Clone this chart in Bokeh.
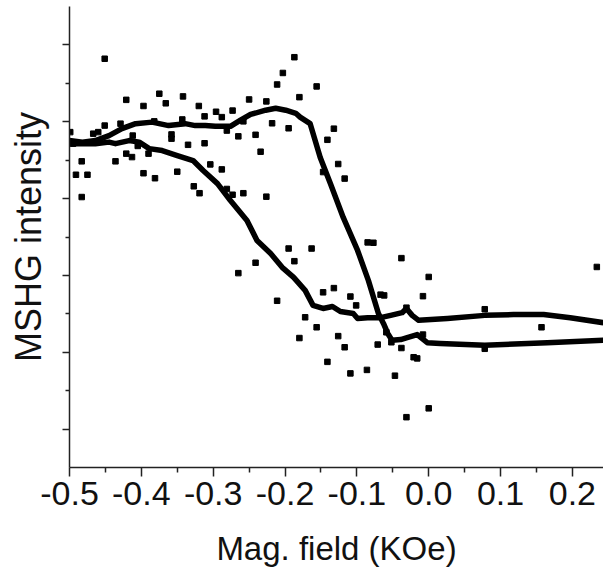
from bokeh.plotting import figure
from bokeh.models import FixedTicker, PrintfTickFormatter, CustomJSTickFormatter, Range1d
from bokeh.embed import file_html
from bokeh.resources import INLINE

# scatter data: magnetic field (KOe) and MSHG intensity (arb. units)
scatter_x = [-0.451, -0.187, -0.203, -0.211, -0.156, -0.180, -0.421, -0.375, -0.366, -0.342,
             -0.397, -0.320, -0.250, -0.226, -0.296, -0.273, -0.312, -0.288, -0.451, -0.429,
             -0.467, -0.460, -0.382, -0.343, -0.258, -0.218, -0.132, -0.195, -0.281, -0.358,
             -0.358, -0.265, -0.241, -0.141, -0.412, -0.499, -0.495, -0.335, -0.312, -0.405,
             -0.234, -0.421, -0.413, -0.390, -0.483, -0.436, -0.304, -0.126, -0.288, -0.350,
             -0.397, -0.381, -0.491, -0.475, -0.147, -0.327, -0.319, -0.281, -0.273, -0.258,
             -0.226, -0.483, -0.117, -0.085, -0.077, -0.265, -0.241, -0.195, -0.163, -0.187,
             -0.211, -0.147, -0.132, -0.172, -0.156, -0.180, -0.126, -0.141, -0.038, 0.000,
             0.234, -0.109, -0.101, -0.067, -0.062, -0.008, -0.031, 0.078, 0.157, -0.117,
             -0.071, -0.059, -0.052, -0.038, -0.021, -0.016, -0.008, 0.078, -0.109, -0.086,
             -0.047, 0.000, -0.031]
scatter_y = [10.64, 10.68, 10.27, 9.97, 9.92, 9.64, 9.57, 9.73, 9.48, 9.66,
             9.41, 9.41, 9.58, 9.53, 9.26, 9.29, 9.14, 9.12, 8.90, 8.95,
             8.69, 8.73, 9.01, 9.06, 9.01, 8.96, 8.82, 8.83, 8.77, 8.67,
             8.56, 8.62, 8.66, 8.53, 8.64, 8.73, 8.43, 8.40, 8.44, 8.37,
             8.22, 8.17, 8.08, 8.17, 7.97, 7.97, 7.89, 7.90, 7.76, 7.70,
             7.66, 7.53, 7.62, 7.62, 7.69, 7.32, 7.14, 7.25, 7.10, 7.14,
             7.05, 7.04, 7.52, 5.86, 5.85, 5.06, 5.33, 5.70, 5.70, 5.37,
             4.34, 4.56, 4.67, 3.91, 3.65, 3.37, 3.42, 2.75, 5.45, 4.96,
             5.22, 4.45, 4.22, 4.50, 4.48, 4.46, 4.16, 4.12, 3.65, 3.13,
             3.20, 3.52, 3.26, 3.11, 2.87, 2.84, 3.46, 3.09, 2.45, 2.54,
             2.39, 1.54, 1.31]

# branch 1: flat top, steep drop, lower right
branch1_x = [-0.500, -0.482, -0.464, -0.445, -0.427, -0.408, -0.385, -0.362, -0.339, -0.325,
             -0.311, -0.297, -0.276, -0.262, -0.248, -0.227, -0.213, -0.199, -0.185, -0.179,
             -0.165, -0.151, -0.137, -0.119, -0.099, -0.084, -0.070, -0.063, -0.057, -0.051,
             -0.039, -0.030, -0.016, -0.002, 0.016, 0.078, 0.165, 0.243]
branch1_y = [8.51, 8.47, 8.51, 8.64, 8.82, 8.95, 8.99, 8.90, 8.95, 8.90,
             8.90, 8.88, 8.88, 9.04, 9.19, 9.30, 9.35, 9.30, 9.22, 9.12,
             8.95, 8.07, 7.40, 6.51, 5.65, 4.87, 4.01, 3.75, 3.49, 3.31,
             3.33, 3.38, 3.46, 3.25, 3.23, 3.18, 3.25, 3.31]

# branch 2: gradual decrease, upper right
branch2_x = [-0.500, -0.464, -0.445, -0.436, -0.417, -0.403, -0.389, -0.371, -0.350, -0.328,
             -0.314, -0.294, -0.276, -0.253, -0.239, -0.220, -0.204, -0.188, -0.172, -0.161,
             -0.147, -0.134, -0.123, -0.105, -0.099, -0.085, -0.067, -0.053, -0.037, -0.031,
             -0.023, -0.014, 0.026, 0.078, 0.118, 0.160, 0.197, 0.243]
branch2_y = [8.43, 8.43, 8.47, 8.43, 8.51, 8.47, 8.30, 8.25, 8.12, 7.99,
             7.73, 7.39, 6.95, 6.43, 5.91, 5.57, 5.21, 4.95, 4.61, 4.22,
             4.14, 4.19, 4.06, 4.01, 3.88, 3.90, 3.90, 3.96, 4.03, 4.14,
             3.96, 3.83, 3.88, 3.96, 3.98, 3.98, 3.90, 3.77]

x_ticks = [-0.5, -0.4, -0.3, -0.2, -0.1, 0.0, 0.1, 0.2]
x_minor = [-0.45, -0.35, -0.25, -0.15, -0.05, 0.05, 0.15]
y_ticks = [1, 3, 5, 7, 9, 11]
y_minor = [2, 4, 6, 8, 10]

FONT = "Liberation Sans"

p = figure(width=603, height=578, output_backend="svg", toolbar_location=None,
           x_range=Range1d(-0.5, 0.2433), y_range=Range1d(0, 12),
           min_border_left=69, min_border_right=0, min_border_top=6, min_border_bottom=111)
p.outline_line_color = None
p.grid.visible = False
p.background_fill_color = "white"
p.border_fill_color = "white"

p.line(branch1_x, branch1_y, line_color="black", line_width=5.5, line_join="round")
p.line(branch2_x, branch2_y, line_color="black", line_width=5.5, line_join="round")
p.scatter(scatter_x, scatter_y, marker="square", size=5.5, fill_color="black", line_color="black")

xa = p.xaxis[0]
xa.ticker = FixedTicker(ticks=x_ticks, minor_ticks=x_minor)
xa.formatter = PrintfTickFormatter(format="%.1f")
xa.axis_label = "Mag. field (KOe)"
xa.axis_label_text_font = FONT
xa.axis_label_text_font_size = "33px"
xa.axis_label_text_font_style = "normal"
xa.axis_label_text_color = "#111111"
xa.axis_label_standoff = 22
xa.major_label_text_font = FONT
xa.major_label_text_font_size = "34px"
xa.major_label_text_color = "#111111"
xa.major_label_standoff = 5
xa.major_tick_out = 9
xa.major_tick_in = 0
xa.minor_tick_out = 5
xa.minor_tick_in = 0
xa.axis_line_width = 1.5
xa.major_tick_line_width = 1.5
xa.minor_tick_line_width = 1.5
xa.axis_line_color = "#222222"
xa.major_tick_line_color = "#222222"
xa.minor_tick_line_color = "#222222"

ya = p.yaxis[0]
ya.ticker = FixedTicker(ticks=y_ticks, minor_ticks=y_minor)
ya.formatter = CustomJSTickFormatter(code="return ''")
ya.axis_label = "MSHG intensity"
ya.axis_label_text_font = FONT
ya.axis_label_text_font_size = "36px"
ya.axis_label_text_font_style = "normal"
ya.axis_label_text_color = "#111111"
ya.axis_label_standoff = 14
ya.major_tick_out = 7
ya.major_tick_in = 0
ya.minor_tick_out = 4
ya.minor_tick_in = 0
ya.axis_line_width = 1.5
ya.major_tick_line_width = 1.5
ya.minor_tick_line_width = 1.5
ya.axis_line_color = "#222222"
ya.major_tick_line_color = "#222222"
ya.minor_tick_line_color = "#222222"

open("out.html", "w").write(file_html(p, INLINE))
